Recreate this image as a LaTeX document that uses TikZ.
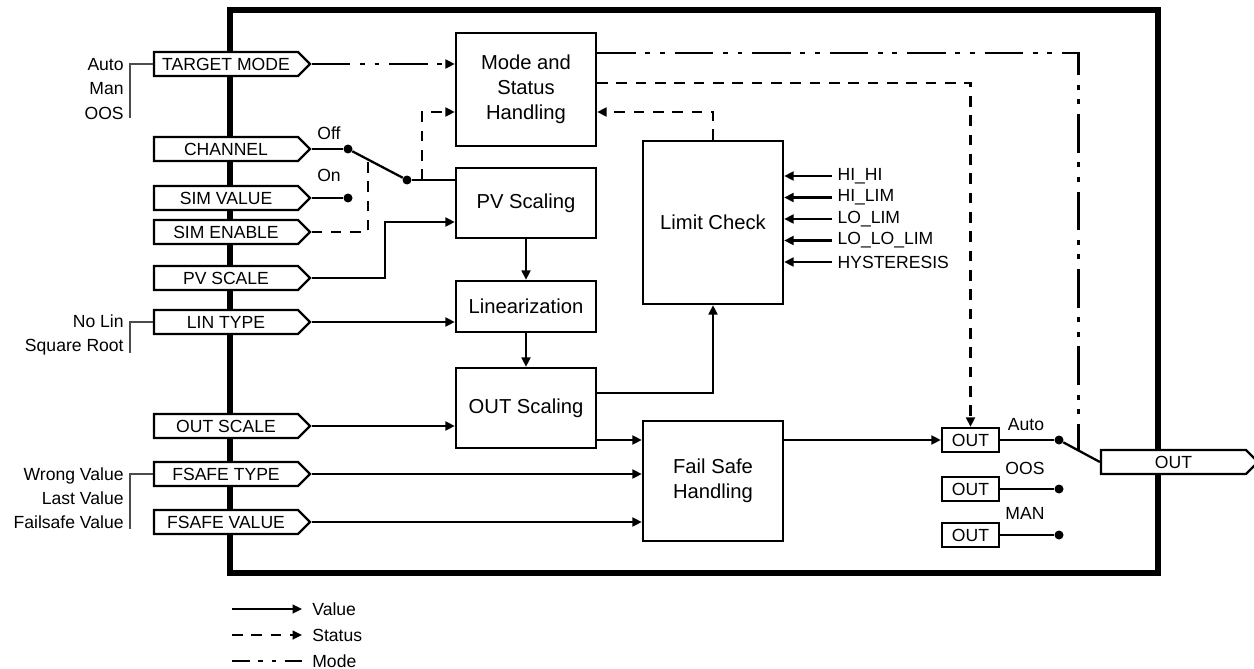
\documentclass[tikz,border=0pt]{standalone}
\usepackage{fontspec}
\setmainfont{Liberation Sans}
\usetikzlibrary{positioning, arrows.meta, shapes.symbols, calc}

\begin{document}
\begin{tikzpicture}[
  x=0.02cm, y=-0.02cm,
  >={Triangle[length=5.4pt, width=5pt]},
  block/.style={draw, line width=1.3pt, fill=white, minimum width=2.8cm,
    align=center, inner sep=2pt, font=\fontsize{11.5}{14.2}\selectfont},
  tag/.style={draw, line width=1.3pt, fill=white, shape=signal,
    signal to=east, signal pointer angle=90, minimum width=3.12cm,
    minimum height=0.48cm, inner sep=0pt, font=\fontsize{10}{12}\selectfont},
  outbox/.style={draw, line width=1.3pt, fill=white, minimum width=1.14cm,
    minimum height=0.48cm, inner sep=0pt, font=\fontsize{10}{12}\selectfont},
  lbl/.style={inner sep=0pt, font=\fontsize{10}{12}\selectfont},
  opts/.style={inner sep=0pt, align=right, font=\fontsize{10}{13.8}\selectfont},
  value/.style={line width=1.3pt},
  status/.style={line width=1.3pt, dash pattern=on 6pt off 5pt},
  modeline/.style={line width=1.3pt,
    dash pattern=on 22pt off 5.5pt on 2.8pt off 5.5pt on 2.8pt off 5.5pt},
  brack/.style={line width=0.7pt, black!70},
  swdot/.style={circle, fill, inner sep=0pt, minimum size=0.18cm},
  frame/.style={line width=3pt},
]
\useasboundingbox (0,0) rectangle (1254,669);

% ===== FUNCTION BLOCK FRAME =====
\draw[frame] (230,10) rectangle (1158,573);

% ===== INPUT PARAMETERS =====
\node[tag] (tmode) at (226,64) {TARGET MODE};
\node[tag] (channel) at (226,149) {CHANNEL};
\node[tag] (simval) at (226,198) {SIM VALUE};
\node[tag] (simen) at (226,232) {SIM ENABLE};
\node[tag] (pvscaletag) at (226,278) {PV SCALE};
\node[tag] (lintype) at (226,322) {LIN TYPE};
\node[tag] (outscaletag) at (226,426) {OUT SCALE};
\node[tag] (fstype) at (226,474) {FSAFE TYPE};
\node[tag] (fsvalue) at (226,522) {FSAFE VALUE};

% parameter choices
\node[opts, anchor=east] (modeopts) at (124,89) {Auto\\Man\\OOS};
\node[opts, anchor=east] (linopts) at (124,335) {No Lin\\Square Root};
\node[opts, anchor=east] (fsopts) at (124,498) {Wrong Value\\Last Value\\Failsafe Value};
\coordinate (brk1) at (130,118);
\coordinate (brk2) at (130,353);
\coordinate (brk3) at (130,529);
\draw[brack] (tmode.west) -| (brk1);
\draw[brack] (lintype.west) -| (brk2);
\draw[brack] (fstype.west) -| (brk3);

% ===== BLOCKS =====
\node[block, minimum height=2.26cm] (mode) at (526,89.5) {Mode and\\Status\\Handling};
\node[block, minimum height=1.4cm] (pvscale) at (526,203) {PV Scaling};
\node[block, minimum height=1.02cm] (lin) at (526,306.5) {Linearization};
\node[block, minimum height=1.6cm] (outscale) at (526,408) {OUT Scaling};
\node[block, minimum height=3.26cm] (limit) at (713,222.5) {Limit Check};
\node[block, minimum height=2.4cm] (failsafe) at (713,481) {Fail Safe\\Handling};

% ===== SIMULATION SWITCH =====
\node[swdot] (offdot) at (348,149) {};
\node[swdot] (ondot) at (348,198) {};
\node[swdot] (pivot) at (407,180) {};
\node[lbl] (offlbl) at (329,133) {Off};
\node[lbl] (onlbl) at (329,175) {On};
\coordinate (simsw) at ($(offdot)!0.34!(pivot)$);
\coordinate (stsrc) at (422,180);
\coordinate (pvbend) at (385,222);

\draw[value] (channel.east) -- (offdot);
\draw[value] (simval.east) -- (ondot);
\draw[value] (offdot) -- (pivot);
\draw[value] (pivot) -- (pivot -| pvscale.west);
\draw[status] (simen.east) -| (simsw);
\draw[status, ->] (stsrc) |- ([yshift=-0.45cm]mode.west);
\draw[value, ->] (pvscaletag.east) -| (pvbend) -- (pvbend -| pvscale.west);

% ===== VALUE PATH =====
\draw[modeline, ->] (tmode.east) -- (tmode.east -| mode.west);
\draw[value, ->] (pvscale) -- (lin);
\draw[value, ->] (lin) -- (outscale);
\draw[value, ->] (lintype.east) -- (lintype.east -| lin.west);
\draw[value, ->] (outscaletag.east) -- (outscaletag.east -| outscale.west);
\draw[value, ->] ([yshift=0.3cm]outscale.east) -| (limit.south);
\coordinate (os2fs) at ([yshift=-0.64cm]outscale.east);
\draw[value, ->] (os2fs) -- (os2fs -| failsafe.west);
\draw[value, ->] (fstype.east) -- (fstype.east -| failsafe.west);
\draw[value, ->] (fsvalue.east) -- (fsvalue.east -| failsafe.west);
\draw[status, ->] (limit.north) |- ([yshift=-0.45cm]mode.east);

% limits
\foreach \lab [count=\i] in {HI\_HI, HI\_LIM, LO\_LIM, LO\_LO\_LIM, HYSTERESIS} {
  \node[lbl, anchor=west, inner sep=3pt] (lim\i) at (832,{154.5+21.5*\i}) {\lab};
  \draw[value, ->] (lim\i.west) -- (lim\i.west -| limit.east);
}

% ===== OUTPUT SELECTION =====
\node[outbox] (outauto) at (970.5,440) {OUT};
\node[outbox] (outoos) at (970.5,489) {OUT};
\node[outbox] (outman) at (970.5,535) {OUT};
\node[swdot] (autodot) at (1059,440) {};
\node[swdot] (oosdot) at (1059,489) {};
\node[swdot] (mandot) at (1059,535) {};
\node[lbl] (autolbl) at (1026,425) {Auto};
\node[lbl] (ooslbl) at (1025,468) {OOS};
\node[lbl] (manlbl) at (1025,513) {MAN};
\node[tag, minimum width=3.14cm] (outtag) at (1173.5,462) {OUT};
\coordinate (modesw) at ($(autodot)!0.476!(outtag.west)$);

\draw[value] (outauto) -- (autodot);
\draw[value] (outoos) -- (oosdot);
\draw[value] (outman) -- (mandot);
\draw[value] (autodot) -- (outtag.west);
\draw[value, ->] (os2fs -| failsafe.east) -- (os2fs -| outauto.west);
\draw[status, ->] ([yshift=0.13cm]mode.east) -| (outauto.north);
\draw[modeline] ([yshift=0.73cm]mode.east) -| (modesw);

% ===== LEGEND =====
\node[lbl, anchor=west] (legval) at (312,609) {Value};
\node[lbl, anchor=west] (legstat) at (312,635) {Status};
\node[lbl, anchor=west] (legmode) at (312,661) {Mode};
\coordinate (legv) at (232,609);
\coordinate (legs) at (232,635);
\coordinate (legm) at (232,661);
\draw[value, ->, shorten >=5.7pt] (legv) -- (legval.west);
\draw[status, ->, shorten >=5.7pt] (legs) -- (legstat.west);
\draw[modeline, dash pattern=on 10pt off 5pt on 2.5pt off 5pt on 2.5pt off 5pt,
  shorten >=5.7pt] (legm) -- (legmode.west);

\end{tikzpicture}
\end{document}
